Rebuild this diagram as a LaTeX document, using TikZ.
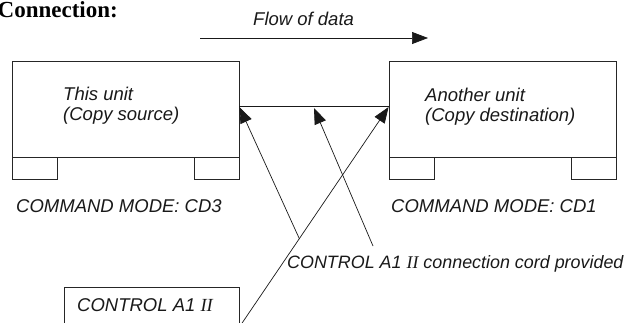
\documentclass[tikz,border=0pt]{standalone}
\usepackage{fontspec}
\setmainfont{Liberation Serif}
\setsansfont{Liberation Sans}
\usepackage{tikz}
\usetikzlibrary{arrows.meta, calc}

\begin{document}
\begin{tikzpicture}
        [x=1pt, y=-1pt,
         unit/.style={
             draw=black!85,
             line width=0.8pt,
             minimum width=227pt,
             minimum height=96pt,
             inner sep=0pt
         },
         foot/.style={
             draw=black!85,
             line width=0.8pt,
             minimum width=45pt,
             minimum height=22pt,
             inner sep=0pt
         },
         lbl/.style={
             font=\sffamily\itshape\fontsize{18.5}{20.5}\selectfont,
             text=black!90,
             inner sep=0pt,
             align=left
         },
         cord/.style={
             black!90,
             line width=0.7pt,
             -{Triangle[length=16pt, width=12pt]}
         }
         ]
        \clip (0,0) rectangle (631,322);
        % heading and flow arrow
        \node[font=\bfseries\fontsize{23}{25}\selectfont, anchor=base east, inner sep=0pt] (title) at (118,17) {Connection:};
        \node[lbl, anchor=base west] (flow) at (253,25) {Flow of data};
        \coordinate (fs) at (200,38);
        \coordinate (fe) at (428,38);
        \draw[cord] (fs) -- (fe);
        % the two units
        \node[unit] (src) at (125.5,109) {};
        \node[unit] (dst) at (502.5,109) {};
        \node[foot, anchor=north west] (srcl) at (src.south west) {};
        \node[foot, anchor=north east] (srcr) at (src.south east) {};
        \node[foot, anchor=north west] (dstl) at (dst.south west) {};
        \node[foot, anchor=north east] (dstr) at (dst.south east) {};
        \node[lbl, anchor=base west] (srct) at (63,120.5) {This unit\\(Copy source)};
        \node[lbl, anchor=base west] (dstt) at (425,121.5) {Another unit\\(Copy destination)};
        \node[lbl, anchor=base west] (srcm) at (16,212) {COMMAND MODE: CD3};
        \node[lbl, anchor=base west] (dstm) at (391,212) {COMMAND MODE: CD1};
        % control unit, cut off at the bottom
        \node[unit, minimum width=175pt, minimum height=60pt, anchor=north west] (ctl) at (64,287) {};
        \node[lbl, anchor=base west] (ctlt) at (77,311) {CONTROL A1 {\rmfamily II}};
        \node[lbl, font=\sffamily\itshape\fontsize{17.9}{20}\selectfont, anchor=base west] (cordt) at (287,268) {CONTROL A1 {\rmfamily II} connection cord provided};
        % connection cords
        \draw[black!90, line width=0.7pt] ([yshift=3pt]src.east) -- ([yshift=3pt]dst.west);
        \coordinate (ctlo) at ([yshift=-9pt]ctl.east);
        \coordinate (mid) at ($([yshift=1pt]src.east)!0.5!([yshift=1pt]dst.west)$);
        \coordinate (cross) at ($(ctlo)!0.4!([yshift=2pt]dst.west)$);
        \coordinate (cordo) at (373,246);
        \draw[cord] (ctlo) -- ([yshift=2pt]dst.west);
        \draw[cord] (cross) -- ([yshift=2pt]src.east);
        \draw[cord] (cordo) -- (mid);
\end{tikzpicture}
\end{document}
